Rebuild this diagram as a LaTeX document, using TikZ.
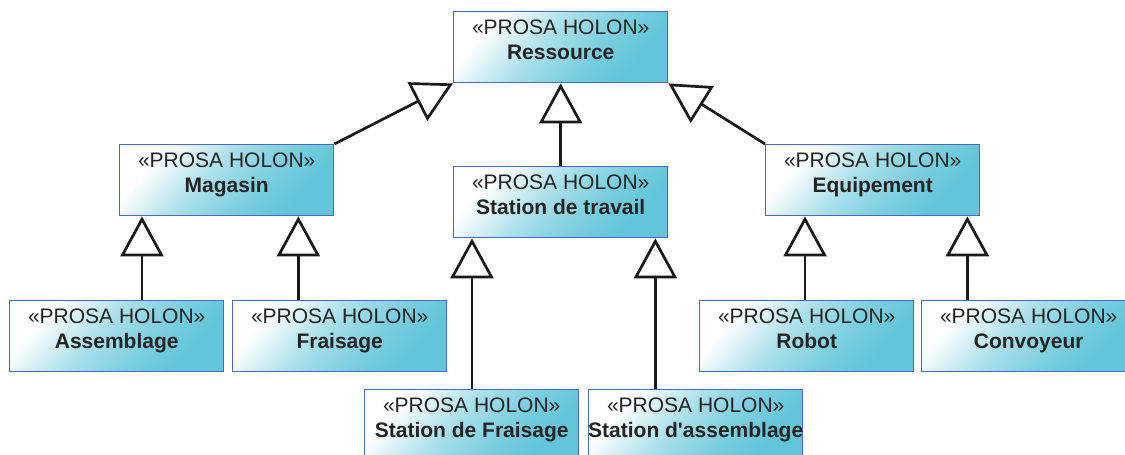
\documentclass[tikz,border=0pt]{standalone}
\usepackage{fontspec}
\setmainfont{Liberation Sans}
\usetikzlibrary{arrows.meta}

\definecolor{holoncyan}{RGB}{98,197,217}
\definecolor{holonedge}{RGB}{75,105,195}
\definecolor{inkgray}{RGB}{35,35,35}

% box fill: white in the upper left corner, turning cyan towards the lower right
\pgfdeclarehorizontalshading{holonfill}{100bp}{
  color(0bp)=(white); color(27bp)=(white);
  color(45bp)=(holoncyan!55!white); color(60bp)=(holoncyan!85!white);
  color(72bp)=(holoncyan); color(100bp)=(holoncyan)}

% class box contents: stereotype line and bold class name, top aligned
\newcommand{\holontext}[1]{%
  \parbox[c][71pt][t]{214pt}{\fontsize{21}{25}\selectfont
    \makebox[\linewidth][c]{\rule{0pt}{22.5pt}«PROSA HOLON»}\\
    \makebox[\linewidth][c]{\textbf{#1}}}}

\begin{document}
\begin{tikzpicture}[x=1pt,y=-1pt,
  holon/.style={draw=holonedge, line width=1.4pt, inner sep=0pt,
    anchor=north west, shade, shading=holonfill, shading angle=-42,
    text=inkgray},
  gen/.style={draw=black!90, line width=2.7pt,
    -{Triangle[open, length=40pt, width=43pt, fill=white]}}
]
\clip (0,0) rectangle (1125,455);

% class boxes
\node[holon] (ressource) at (453,11)  {\holontext{Ressource}};
\node[holon] (magasin)   at (119,144) {\holontext{Magasin}};
\node[holon] (travail)   at (453,166) {\holontext{Station de travail}};
\node[holon] (equip)     at (765,144) {\holontext{Equipement}};
\node[holon] (assemb)    at (9,300)   {\holontext{Assemblage}};
\node[holon] (fraisage)  at (232,300) {\holontext{Fraisage}};
\node[holon] (robot)     at (699,300) {\holontext{Robot}};
\node[holon] (convoy)    at (921,300) {\holontext{Convoyeur}};
\node[holon] (stfrais)   at (364,389) {\holontext{Station de Fraisage}};
\node[holon] (stassem)   at (588,389) {\holontext{Station d\textquotesingle assemblage}};

% attachment points on the parents' lower edges
\coordinate (m1) at ([xshift=23pt]magasin.south west);
\coordinate (m2) at ([xshift=-36pt]magasin.south east);
\coordinate (t1) at ([xshift=19pt]travail.south west);
\coordinate (t2) at ([xshift=-13pt]travail.south east);
\coordinate (e1) at ([xshift=40pt]equip.south west);
\coordinate (e2) at ([xshift=-13pt]equip.south east);

% generalisations
\draw[gen] (magasin.north east) -- (ressource.south west);
\draw[gen] (travail.north) -- (ressource.south);
\draw[gen] (equip.north west) -- (ressource.south east);
\draw[gen] (assemb.north -| m1) -- (m1);
\draw[gen] (fraisage.north -| m2) -- (m2);
\draw[gen] (stfrais.north -| t1) -- (t1);
\draw[gen] (stassem.north -| t2) -- (t2);
\draw[gen] (robot.north -| e1) -- (e1);
\draw[gen] (convoy.north -| e2) -- (e2);
\end{tikzpicture}
\end{document}
